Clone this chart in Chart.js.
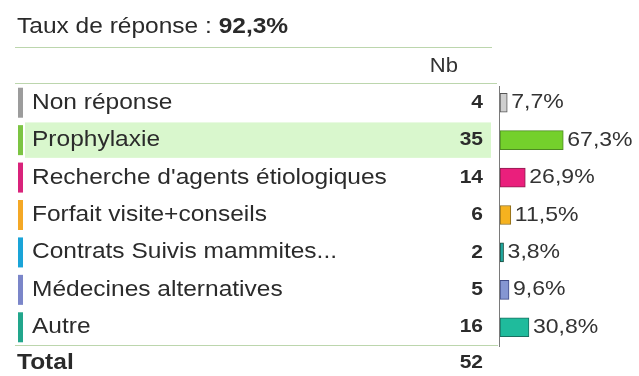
<!DOCTYPE html>
<html>
<head>
<meta charset="utf-8">
<script src="https://cdn.jsdelivr.net/npm/chart.js@4/dist/chart.umd.min.js"></script>
<style>
  html, body { margin: 0; padding: 0; background: #fff; }
  #wrap { width: 639px; height: 376px; }
</style>
</head>
<body>
<div id="wrap"><canvas id="barChart" width="639" height="376"></canvas></div>
<script>
// survey answers
var tauxReponse = '92,3%';
var categories = ['Non réponse', 'Prophylaxie', "Recherche d'agents étiologiques",
    'Forfait visite+conseils', 'Contrats Suivis mammites...', 'Médecines alternatives', 'Autre'];
var counts = [4, 35, 14, 6, 2, 5, 16];
var percents = [7.7, 67.3, 26.9, 11.5, 3.8, 9.6, 30.8];
var total = 52;

var swatchColors = ['#9c9c9c', '#7cc443', '#d9237b', '#f4a826', '#1aa4d8', '#7b86c9', '#22a68c'];
var barColors = ['#cfcfcf', '#74d02c', '#ea1f7c', '#f6b21f', '#1fa8a0', '#8596d2', '#1fbb9c'];
var barBorders = ['#555555', '#4d8a22', '#8a1d4c', '#8a6a1a', '#1d4d3f', '#3e4a86', '#1a6f60'];

var FONT = '"Liberation Sans", Arial, sans-serif';
var STRETCH = 1.13; // text is a bit wider than tall

// draws text slightly stretched horizontally, returns its drawn width
function txt(ctx, s, x, y, font, align) {
    ctx.save();
    ctx.font = font;
    ctx.textAlign = align || 'left';
    ctx.textBaseline = 'middle';
    ctx.translate(x, y);
    ctx.scale(STRETCH, 1);
    ctx.fillText(s, 0, 0);
    var w = ctx.measureText(s).width * STRETCH;
    ctx.restore();
    return w;
}

var tablePlugin = {
    id: 'tablePlugin',
    beforeDatasetsDraw: function (chart) {
        var ctx = chart.ctx;
        var y = chart.scales.y;
        var pitch = Math.abs(y.getPixelForValue(1) - y.getPixelForValue(0));
        var cy = y.getPixelForValue(1);
        // highlighted row
        ctx.save();
        ctx.fillStyle = '#d9f7cd';
        ctx.fillRect(25, cy - pitch / 2 + 1, 466, pitch - 2);
        ctx.restore();
    },
    afterDatasetsDraw: function (chart) {
        var ctx = chart.ctx;
        var y = chart.scales.y;
        var area = chart.chartArea;
        ctx.save();

        // title
        ctx.fillStyle = '#2a2a2a';
        var w1 = txt(ctx, 'Taux de réponse : ', 17, 27, '21.7px ' + FONT);
        txt(ctx, tauxReponse, 17 + w1, 27, 'bold 21.7px ' + FONT);

        // separators
        ctx.strokeStyle = '#bcd6ad';
        ctx.lineWidth = 1;
        [[47.5, 492], [83.5, 497], [345.5, 498]].forEach(function (l) {
            ctx.beginPath();
            ctx.moveTo(15, l[0]);
            ctx.lineTo(l[1], l[0]);
            ctx.stroke();
        });

        // vertical axis line
        ctx.strokeStyle = '#7a7a7a';
        ctx.beginPath();
        ctx.moveTo(area.left - 0.5, area.top + 2);
        ctx.lineTo(area.left - 0.5, area.bottom + 1);
        ctx.stroke();

        // header
        ctx.fillStyle = '#333';
        txt(ctx, 'Nb', 458, 67, '19.5px ' + FONT, 'right');

        // rows
        categories.forEach(function (c, i) {
            var cy = y.getPixelForValue(i);
            ctx.fillStyle = swatchColors[i];
            ctx.fillRect(18, cy - 15, 5, 30);
            ctx.fillStyle = '#2b2b2b';
            txt(ctx, c, 32, cy, '21.7px ' + FONT);
            txt(ctx, String(counts[i]), 483, cy, 'bold 18.6px ' + FONT, 'right');
        });

        // percentage labels next to bars
        var meta = chart.getDatasetMeta(0);
        ctx.fillStyle = '#333';
        meta.data.forEach(function (bar, i) {
            txt(ctx, String(percents[i]).replace('.', ',') + '%', bar.x + 4, bar.y, '20.4px ' + FONT);
        });

        // total row
        ctx.fillStyle = '#2a2a2a';
        txt(ctx, 'Total', 17, 363, 'bold 21.7px ' + FONT);
        txt(ctx, String(total), 483, 363, 'bold 18.6px ' + FONT, 'right');
        ctx.restore();
    }
};

var barData = {
    labels: categories,
    datasets: [{
        data: percents,
        backgroundColor: barColors,
        borderColor: barBorders,
        borderWidth: 1,
        borderSkipped: false,
        barThickness: 19
    }]
};

var ctx2 = document.getElementById('barChart').getContext('2d');
new Chart(ctx2, {
    type: 'bar',
    data: barData,
    plugins: [tablePlugin],
    options: {
        indexAxis: 'y',
        responsive: false,
        animation: false,
        layout: { padding: { left: 500, right: 45, top: 84, bottom: 30 } },
        plugins: { legend: { display: false }, tooltip: { enabled: false } },
        scales: {
            x: { display: false, min: 0, max: 100 },
            y: { display: false }
        }
    }
});
</script>
</body>
</html>
